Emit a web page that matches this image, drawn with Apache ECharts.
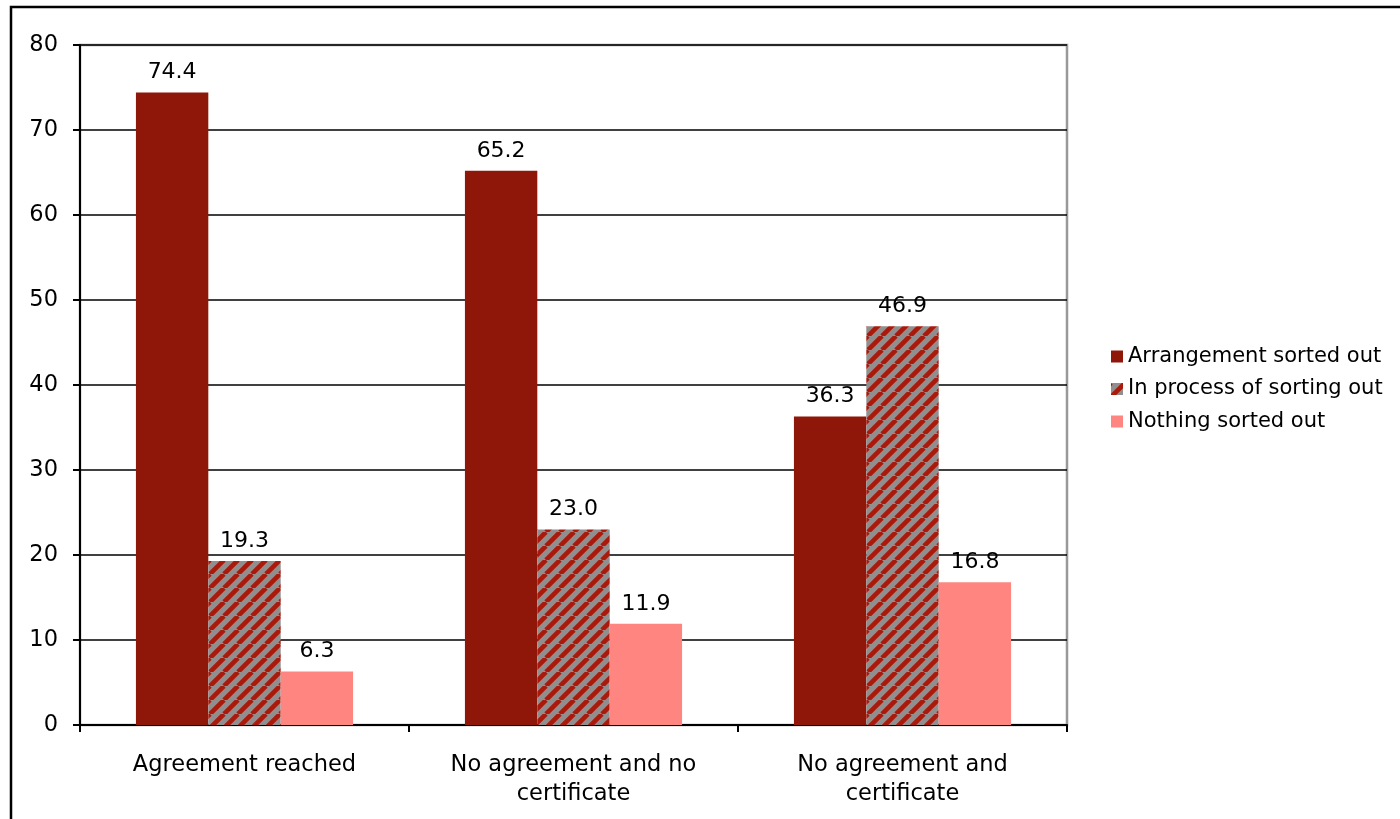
<!DOCTYPE html>
<html>
<head>
<meta charset="utf-8">
<script src="https://cdn.jsdelivr.net/npm/echarts@6/dist/echarts.min.js"></script>
<style>html,body{margin:0;padding:0;background:#fff}#c{width:1400px;height:819px}</style>
</head>
<body>
<div id="c"></div>
<script>
const categories = ['Agreement reached', 'No agreement and no\ncertificate', 'No agreement and\ncertificate'];
const seriesNames = ['Arrangement sorted out', 'In process of sorting out', 'Nothing sorted out'];
const arrangement = [74.4, 65.2, 36.3];
const inProcess = [19.3, 23.0, 46.9];
const nothing = [6.3, 11.9, 16.8];
const yTicks = [0, 10, 20, 30, 40, 50, 60, 70, 80];

function hatch() {
  const s = 14;
  const c = document.createElement('canvas');
  c.width = s; c.height = s;
  const g = c.getContext('2d');
  g.fillStyle = '#8F8F8F';
  g.fillRect(0, 0, s, s);
  g.strokeStyle = '#AC180A';
  g.lineWidth = 4.6;
  g.beginPath();
  for (let k = -1; k <= 1; k++) {
    g.moveTo(k * s, s);
    g.lineTo(k * s + s, 0);
  }
  g.stroke();
  return c;
}

const FONT = 'DejaVu Sans';
const FS = 22.5;
const chart = echarts.init(document.getElementById('c'));
const lbl = {
  show: true, position: 'top', distance: 9, color: '#000',
  fontFamily: FONT, fontSize: 22,
  formatter: p => p.value.toFixed(1)
};
chart.setOption({
  animation: false,
  textStyle: { fontFamily: FONT },
  graphic: [{
    type: 'rect', shape: { x: 11, y: 7, width: 1600, height: 1000 },
    style: { fill: 'none', stroke: '#000', lineWidth: 2.5 }, silent: true
  }],
  grid: { left: 80, right: 333, top: 45, bottom: 94, show: true, borderColor: '#999', borderWidth: 2.5, backgroundColor: 'transparent' },
  legend: {
    orient: 'vertical', left: 1106, top: 341, itemWidth: 12, itemHeight: 12, itemGap: 11.5, icon: 'rect',
    textStyle: { fontFamily: FONT, fontSize: 21, color: '#000' },
    data: seriesNames
  },
  xAxis: {
    type: 'category', data: categories,
    axisLine: { lineStyle: { color: '#000', width: 2 } },
    axisTick: { show: true, length: 7, interval: 0, lineStyle: { color: '#000', width: 2 } },
    axisLabel: { interval: 0, margin: 26, color: '#000', fontFamily: FONT, fontSize: FS, lineHeight: 29 }
  },
  yAxis: {
    type: 'value', min: 0, max: 80, interval: 10,
    axisLine: { show: true, lineStyle: { color: '#000', width: 2 } },
    axisTick: { show: true, length: 7, lineStyle: { color: '#000', width: 2 } },
    axisLabel: { margin: 22, color: '#000', fontFamily: FONT, fontSize: FS, padding: [3, 0, 0, 0], formatter: v => yTicks.includes(v) ? String(v) : '' },
    splitLine: { lineStyle: { color: '#000', width: 1.5 } }
  },
  series: [
    { name: seriesNames[0], type: 'bar', data: arrangement, barGap: '0%', barCategoryGap: '34%', itemStyle: { color: '#8E1709' }, label: lbl },
    { name: seriesNames[1], type: 'bar', data: inProcess, itemStyle: { color: { image: hatch(), repeat: 'repeat' } }, label: lbl },
    { name: seriesNames[2], type: 'bar', data: nothing, itemStyle: { color: '#FF8580' }, label: lbl }
  ]
});
</script>
</body>
</html>
